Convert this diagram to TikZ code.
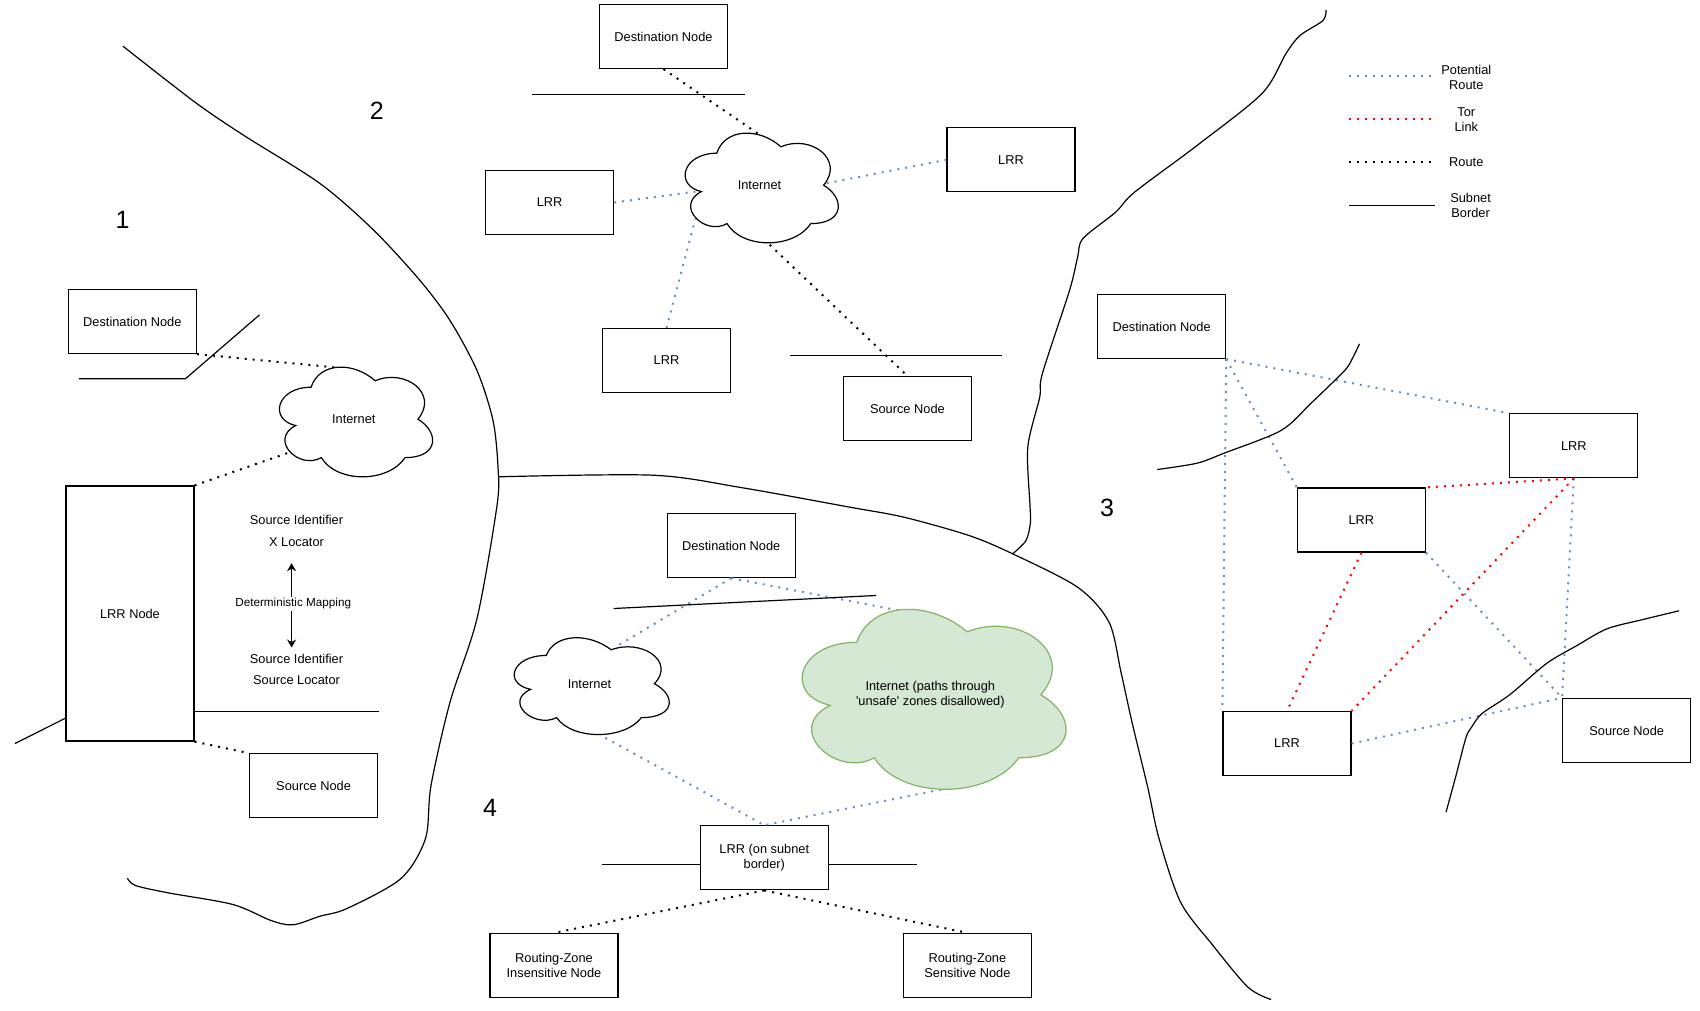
\documentclass[tikz,border=0pt]{standalone}
\usepackage{fontspec}
\setmainfont{Liberation Sans}
\usetikzlibrary{arrows.meta}
\usetikzlibrary{positioning}
\definecolor{potentialblue}{HTML}{6C8EBF}
\definecolor{greenfill}{HTML}{D5E8D4}
\definecolor{greenline}{HTML}{82B366}
\tikzstyle{every node}=[font=\fontsize{12.8}{15}\selectfont]
\tikzstyle{nodebox}=[
        draw,
        rectangle,
        line width=1.2pt,
        fill=white,
        inner sep=0pt,
        align=center,
        minimum width=128pt,
        minimum height=64pt
]
\tikzstyle{regionnum}=[font=\fontsize{25}{30}\selectfont]
\tikzstyle{lbl}=[align=center]
\tikzstyle{subnet}=[line width=1.2pt,line join=round]
\tikzstyle{potential}=[line width=2pt,dash pattern=on 2pt off 6pt,potentialblue]
\tikzstyle{torlink}=[line width=2pt,dash pattern=on 2pt off 6pt,red]
\tikzstyle{routed}=[line width=2pt,dash pattern=on 2pt off 6pt,black]
\tikzstyle{mapping}=[line width=1.2pt,-{Stealth[length=8pt,width=9pt]}]
\tikzstyle{plaincloud}=[draw=black,fill=white,line width=1.2pt]
\tikzstyle{greencloud}=[draw=greenline,fill=greenfill,line width=1.2pt]
% name, left, top, width, height, style, text
\newcommand{\netcloud}[7]{
\begin{scope}[shift={(#2,#3)},x=#4pt,y=-#5pt]
\draw[#6] (.25,.25) .. controls (.05,.25) and (0,.5) .. (.16,.55)
 .. controls (0,.66) and (.18,.9) .. (.31,.8)
 .. controls (.4,1) and (.7,1) .. (.8,.8)
 .. controls (1,.8) and (1,.6) .. (.875,.5)
 .. controls (1,.3) and (.8,.1) .. (.625,.2)
 .. controls (.5,.05) and (.3,.05) .. (.25,.25) -- cycle;
\node[lbl] (#1) at (.5,.5) {#7};
\end{scope}
}

\begin{document}
\begin{tikzpicture}[x=1pt,y=-1pt]
\useasboundingbox (0,-0.5) rectangle (1700,1009.5);
%Region numbers
\node[regionnum] (num1) at (122.5,219.5) {1};
\node[regionnum] (num2) at (376.7,110.7) {2};
\node[regionnum] (num3) at (1107,507) {3};
\node[regionnum] (num4) at (490,807.3) {4};

%Region 1
\node[nodebox] (dest1) at (132.3,321) {Destination Node};
\node[nodebox,minimum height=255pt] (lrrnode) at (130,613) {LRR Node};
\node[nodebox] (src1) at (313.6,785.3) {Source Node};
\coordinate (cloud1top) at (336,367);
\coordinate (cloud1low) at (292,451);
\draw[routed] (dest1.south east) -- (cloud1top);
\draw[routed] (lrrnode.north east) -- (cloud1low);
\draw[routed] (lrrnode.south east) -- (src1.north west);
\netcloud{cloud1}{268.3}{354.7}{171}{128}{plaincloud}{Internet}
\node[lbl] (sid1) at (296.5,519.3) {Source Identifier};
\node[lbl] (xloc) at (296.5,541.7) {X Locator};
\node[lbl] (sid2) at (296.5,658.3) {Source Identifier};
\node[lbl] (sloc) at (296.5,679.3) {Source Locator};
\node[lbl,fill=white,inner sep=1pt,font=\fontsize{11.7}{14}\selectfont] (detmap) at (293.2,603.3) {Deterministic Mapping};
\coordinate (maptop) at (291.6,562.7);
\coordinate (mapbot) at (291.6,647);
\draw[mapping] (291.6,596) -- (maptop);
\draw[mapping] (291.6,610.5) -- (mapbot);
\draw[subnet] (79,378.3) -- (185.4,378.3) -- (259.6,314.3);
\draw[subnet] (15,743) -- (lrrnode.west |- 0,717.7);
\draw[subnet] (lrrnode.east |- 0,711) -- (379.4,711);

%Region 2
\node[nodebox] (dest2) at (663.5,36) {Destination Node};
\node[nodebox] (lrrleft) at (549.6,202) {LRR};
\node[nodebox] (lrrright) at (1011,159.3) {LRR};
\node[nodebox] (lrrlow) at (666.5,360) {LRR};
\node[nodebox] (src2) at (907.4,408) {Source Node};
\coordinate (cloud2top) at (768,140);
\coordinate (cloud2left) at (700,190.5);
\coordinate (cloud2right) at (824,183.3);
\coordinate (cloud2sw) at (695.4,218.3);
\coordinate (cloud2bot) at (769.7,244.3);
\draw[routed] (dest2.south) -- (cloud2top);
\draw[routed] (cloud2bot) -- (src2.north);
\draw[potential] (lrrleft.east) -- (cloud2left);
\draw[potential] (lrrright.west) -- (cloud2right);
\draw[potential] (lrrlow.north) -- (cloud2sw);
\netcloud{cloud2}{674}{120.7}{171}{128}{plaincloud}{Internet}
\draw[subnet] (532,93.7) -- (744.7,93.7);
\draw[subnet] (789.7,355) -- (1002.3,355);

%Region 3
\node[nodebox] (dest3) at (1161.6,326) {Destination Node};
\node[nodebox] (lrrtop) at (1573.8,445.3) {LRR};
\node[nodebox] (lrrmid) at (1361.4,519.5) {LRR};
\node[nodebox] (lrrbot) at (1287,743) {LRR};
\node[nodebox] (src3) at (1626.7,730) {Source Node};
\draw[potential] (dest3.south east) -- (lrrtop.north west);
\draw[potential] (dest3.south east) -- (lrrmid.north west);
\draw[potential] (dest3.south east) -- (lrrbot.north west);
\draw[potential] (lrrmid.south east) -- (src3.north west);
\draw[potential] (lrrtop.south) -- (src3.north west);
\draw[potential] (lrrbot.east) -- (src3.north west);
\draw[torlink] (lrrtop.south) -- (lrrmid.north east);
\draw[torlink] (lrrtop.south) -- (lrrbot.north east);
\draw[torlink] (lrrmid.south) -- (lrrbot.north);
\draw[subnet] plot[smooth,tension=.5] coordinates {(1157.3,469) (1197,462.7) (1224,452.7) (1281,430) (1310.7,403) (1338,376.7) (1348.6,365) (1359.5,343.3)};
\draw[subnet] plot[smooth,tension=.5] coordinates {(1446,811.7) (1456,775) (1466,737) (1472,726) (1482,713) (1510,694) (1546.5,663) (1577,645) (1607,628.3) (1643,619) (1679,610.3)};

%Region 4
\node[nodebox] (dest4) at (731.2,545) {Destination Node};
\node[nodebox] (lrrborder) at (764.3,857.3) {LRR (on subnet\\border)};
\node[nodebox] (rzins) at (554,965) {Routing-Zone\\Insensitive Node};
\node[nodebox] (rzsens) at (967.4,965) {Routing-Zone\\Sensitive Node};
\coordinate (cloud4top) at (617.9,645);
\coordinate (cloud4bot) at (605.4,737.3);
\coordinate (safetop) at (898.8,610);
\coordinate (safebot) at (941,789);
\draw[potential] (dest4.south) -- (cloud4top);
\draw[potential] (dest4.south) -- (safetop);
\draw[potential] (cloud4bot) -- (lrrborder.north);
\draw[potential] (safebot) -- (lrrborder.north);
\draw[routed] (lrrborder.south) -- (rzins.north);
\draw[routed] (lrrborder.south) -- (rzsens.north);
\netcloud{cloud4}{503}{626.7}{173}{113}{plaincloud}{Internet}
\netcloud{cloudsafe}{783}{589.3}{294.6}{210}{greencloud}{Internet (paths through\\\textquotesingle unsafe\textquotesingle{} zones disallowed)}
\draw[subnet] (613.6,608) -- (876,595);
\draw[subnet] (602,864) -- (lrrborder.west |- 0,864);
\draw[subnet] (lrrborder.east |- 0,864) -- (917,864);

%Region borders
\draw[subnet] plot[smooth,tension=.5] coordinates {(123,45.7) (195,101.7) (244,135) (320,183) (374,230) (420,280) (450,320) (477,370) (493,420) (498,466.7) (497,505) (477,618) (450,701.7) (431,785) (425.5,838) (401,878) (347,908) (320,915.7) (293,924.3) (271,920) (233,904) (168,892.3) (135.5,885) (127.4,877.7)};
\draw[subnet] plot[smooth,tension=.5] coordinates {(498.6,476.3) (653,474.7) (742.5,487.3) (850,506.7) (904,516.7) (969,535) (1012.6,553.3) (1077.6,586.7) (1109,621.7) (1121,671.7) (1132,721.7) (1148,788) (1159,838) (1180.6,901.7) (1213,945) (1248,986.7) (1271,999)};
\draw[subnet] plot[smooth,tension=.5] coordinates {(1326,9.3) (1323,20) (1300,35) (1286,53) (1262,93) (1197,145) (1134.5,191.7) (1115.6,211.7) (1083,238) (1077.6,256.7) (1069.5,290) (1042.4,373) (1039.7,396.7) (1027.8,446.7) (1030,505) (1030.5,521.7) (1026,540) (1012.6,553.3)};

%Legend
\coordinate (legpotA) at (1349,75.3);
\coordinate (legpotB) at (1431,75.3);
\coordinate (legtorA) at (1349,118.3);
\coordinate (legtorB) at (1431,118.3);
\coordinate (legrouteA) at (1349,161);
\coordinate (legrouteB) at (1431,161);
\coordinate (legsubA) at (1349,204.7);
\coordinate (legsubB) at (1435,204.7);
\draw[potential] (legpotA) -- (legpotB);
\draw[torlink] (legtorA) -- (legtorB);
\draw[routed] (legrouteA) -- (legrouteB);
\draw[subnet] (legsubA) -- (legsubB);
\node[lbl] (legpot) at (1466.3,76.8) {Potential\\Route};
\node[lbl] (legtor) at (1466.3,118.8) {Tor\\Link};
\node[lbl] (legroute) at (1466.3,161.3) {Route};
\node[lbl] (legsub) at (1470.6,204.8) {Subnet\\Border};
\end{tikzpicture}
\end{document}
